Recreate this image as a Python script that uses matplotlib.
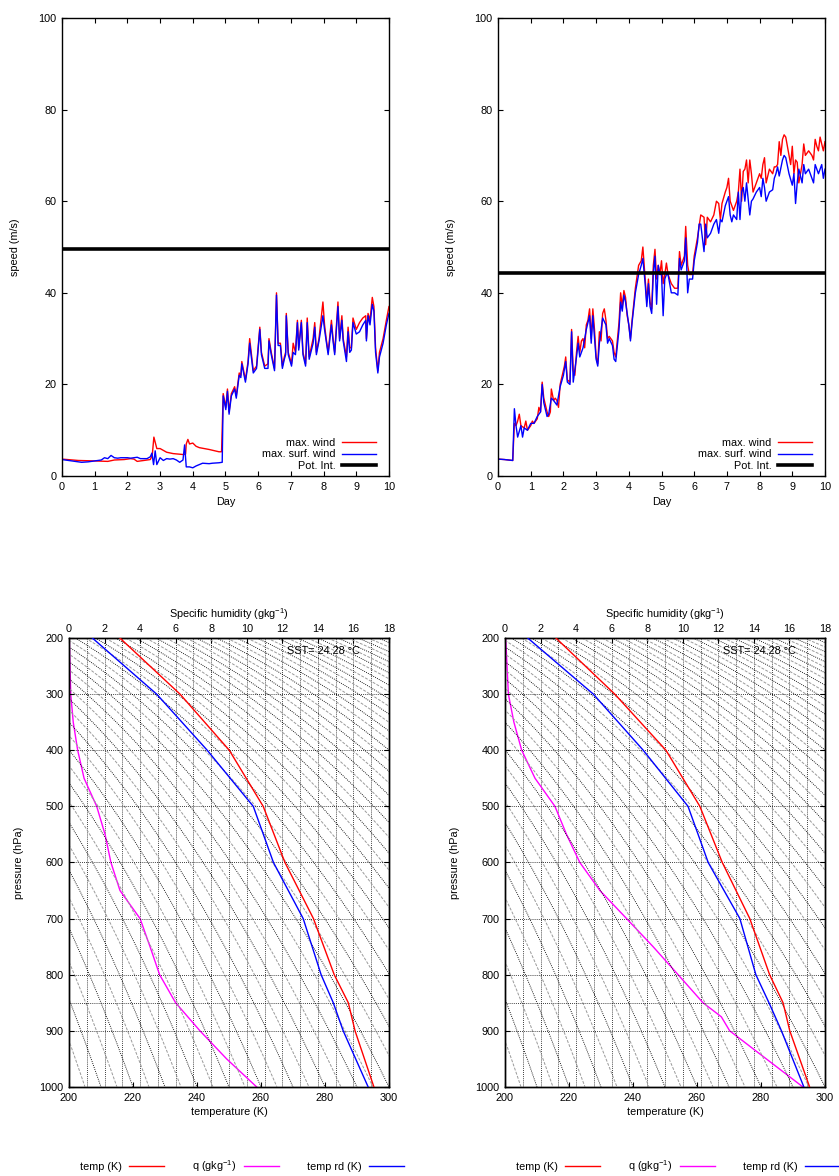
import matplotlib
matplotlib.use("Agg")
import matplotlib.pyplot as plt
import numpy as np

plt.rcParams['font.family'] = ['Liberation Sans', 'DejaVu Sans']
plt.rcParams['font.size'] = 7.8
plt.rcParams['mathtext.default'] = 'regular'
plt.rcParams['axes.linewidth'] = 1.0

# ---- wind time series, run 1 (left) ----
left_red_day = [0.0, 0.5, 1.0, 1.4, 1.6, 1.9, 2.1, 2.2, 2.3, 2.5, 2.7, 2.76, 2.81, 2.9, 3.0, 3.1, 3.2, 3.4, 3.7, 3.78,
                3.8, 3.85, 3.9, 4.0, 4.1, 4.2, 4.5, 4.8, 4.88, 4.93, 5.01, 5.06, 5.11, 5.18, 5.28, 5.33, 5.42, 5.47, 5.5,
                5.61, 5.69, 5.74, 5.85, 5.95, 6.05, 6.1, 6.2, 6.3, 6.33, 6.4, 6.5, 6.56, 6.61, 6.68, 6.74, 6.8, 6.84,
                6.86, 6.92, 7.02, 7.07, 7.14, 7.2, 7.24, 7.32, 7.37, 7.45, 7.5, 7.56, 7.68, 7.73, 7.78, 7.86, 7.98, 8.03,
                8.08, 8.14, 8.24, 8.29, 8.34, 8.44, 8.49, 8.56, 8.6, 8.7, 8.75, 8.8, 8.85, 8.9, 9.0, 9.1, 9.2, 9.29, 9.31,
                9.36, 9.42, 9.49, 9.54, 9.59, 9.66, 9.71, 9.82, 9.92, 10.0]
left_red_speed = [3.7, 3.4, 3.3, 3.2, 3.5, 3.6, 3.8, 3.7, 3.2, 3.4, 3.6, 4.5, 8.5, 6.0, 6.0, 5.6, 5.2, 4.9, 4.7, 4.8,
                  7.0, 8.0, 7.0, 7.2, 6.5, 6.2, 5.8, 5.3, 5.3, 18.0, 15.0, 19.0, 14.0, 18.0, 19.5, 17.5, 22.5, 22.0, 25.0,
                  21.0, 25.0, 30.0, 23.0, 24.0, 32.5, 27.0, 24.0, 24.5, 30.0, 27.0, 23.5, 40.0, 29.0, 29.0, 24.0, 26.0, 27.0,
                  35.5, 27.0, 24.5, 29.0, 27.0, 34.0, 28.0, 34.0, 27.0, 24.5, 34.5, 26.0, 30.0, 33.5, 27.0, 30.0, 38.0, 33.0,
                  30.0, 27.0, 34.0, 30.0, 27.0, 38.0, 30.0, 35.0, 30.0, 26.0, 32.5, 28.0, 28.0, 34.5, 32.0, 33.5, 34.5, 35.0, 30.0,
                  35.5, 34.0, 39.0, 37.0, 28.0, 23.0, 27.0, 30.0, 34.0, 37.0]
left_blue_day = [0.0, 0.3, 0.6, 0.8, 1.0, 1.2, 1.3, 1.4, 1.5, 1.6, 1.7, 1.8, 2.0, 2.1, 2.3, 2.4, 2.6, 2.7, 2.75, 2.8,
                 2.85, 2.9, 3.0, 3.1, 3.2, 3.3, 3.4, 3.5, 3.6, 3.7, 3.75, 3.8, 3.9, 4.0, 4.1, 4.2, 4.3, 4.5, 4.6, 4.8, 4.9,
                 4.93, 5.01, 5.06, 5.11, 5.18, 5.28, 5.33, 5.42, 5.47, 5.5, 5.61, 5.69, 5.74, 5.85, 5.95, 6.05, 6.1, 6.2,
                 6.3, 6.33, 6.4, 6.5, 6.56, 6.61, 6.68, 6.74, 6.8, 6.84, 6.86, 6.92, 7.02, 7.07, 7.14, 7.2, 7.24, 7.32,
                 7.37, 7.45, 7.5, 7.56, 7.68, 7.73, 7.78, 7.86, 7.98, 8.03, 8.08, 8.14, 8.24, 8.29, 8.34, 8.44, 8.49, 8.56,
                 8.6, 8.7, 8.75, 8.8, 8.85, 8.9, 9.0, 9.1, 9.2, 9.29, 9.31, 9.36, 9.42, 9.49, 9.54, 9.59, 9.66, 9.71, 9.82,
                 9.92, 10.0]
left_blue_speed = [3.6, 3.3, 3.0, 3.1, 3.3, 3.5, 4.0, 3.8, 4.5, 4.0, 3.9, 4.0, 4.0, 3.9, 4.1, 3.8, 3.8, 4.2, 5.0, 2.5,
                   5.5, 2.5, 4.0, 3.4, 3.8, 3.7, 3.8, 3.5, 3.0, 3.5, 6.8, 2.0, 2.0, 1.8, 2.2, 2.5, 2.8, 2.7, 2.8, 2.9, 3.0,
                   17.5, 14.5, 18.5, 13.5, 17.5, 19.0, 17.0, 22.0, 21.5, 24.5, 20.5, 24.5, 29.0, 22.5, 23.5, 32.0, 26.5, 23.5,
                   23.5, 29.5, 26.5, 23.0, 39.5, 28.5, 28.5, 23.5, 25.5, 26.5, 35.0, 26.5, 24.0, 27.0, 26.5, 33.5, 27.5, 33.5,
                   26.5, 24.0, 33.5, 25.5, 29.0, 32.5, 26.5, 29.5, 35.0, 32.0, 29.5, 26.5, 33.0, 29.5, 26.5, 37.0, 29.5, 34.0,
                   29.5, 25.0, 31.5, 27.0, 27.5, 33.5, 31.0, 31.5, 33.0, 34.0, 29.5, 35.0, 33.0, 37.5, 36.0, 27.0, 22.5, 26.0, 29.0,
                   33.0, 35.5]
left_pot_int = 49.5

# ---- wind time series, run 2 (right) ----
right_red_day = [0.0, 0.2, 0.45, 0.5, 0.55, 0.6, 0.65, 0.7, 0.8, 0.85, 0.9, 1.0, 1.05, 1.1, 1.2, 1.25, 1.3, 1.35, 1.4,
                 1.5, 1.55, 1.6, 1.63, 1.7, 1.75, 1.8, 1.85, 1.9, 2.0, 2.03, 2.07, 2.12, 2.2, 2.25, 2.3, 2.35, 2.4, 2.45,
                 2.5, 2.55, 2.6, 2.65, 2.7, 2.75, 2.8, 2.85, 2.9, 2.95, 3.0, 3.05, 3.1, 3.15, 3.2, 3.25, 3.3, 3.35, 3.4,
                 3.5, 3.55, 3.6, 3.7, 3.75, 3.8, 3.85, 3.9, 3.95, 4.0, 4.05, 4.1, 4.2, 4.3, 4.38, 4.43, 4.5, 4.55, 4.6,
                 4.65, 4.7, 4.75, 4.8, 4.85, 4.9, 4.95, 5.0, 5.05, 5.1, 5.15, 5.2, 5.3, 5.4, 5.5, 5.55, 5.6, 5.7, 5.74,
                 5.8, 5.85, 5.95, 6.0, 6.1, 6.2, 6.3, 6.35, 6.4, 6.5, 6.6, 6.68, 6.75, 6.8, 6.85, 6.95, 7.0, 7.05, 7.1,
                 7.2, 7.3, 7.35, 7.4, 7.45, 7.5, 7.55, 7.6, 7.65, 7.7, 7.75, 7.8, 7.9, 8.0, 8.05, 8.1, 8.15, 8.2, 8.3,
                 8.4, 8.45, 8.5, 8.55, 8.6, 8.65, 8.7, 8.75, 8.8, 8.85, 8.95, 9.0, 9.05, 9.1, 9.15, 9.2, 9.3, 9.35, 9.4,
                 9.5, 9.6, 9.65, 9.7, 9.75, 9.8, 9.85, 9.9, 9.95, 10.0]
right_red_speed = [3.7, 3.6, 3.4, 11.5, 11.0, 12.0, 13.5, 11.0, 10.5, 12.0, 10.0, 11.0, 12.0, 11.5, 12.5, 15.0, 14.0, 20.5, 17.0,
                   14.0, 13.0, 14.0, 19.0, 16.5, 17.0, 16.5, 15.0, 20.0, 23.0, 24.0, 26.0, 21.0, 20.5, 32.0, 23.0, 22.0, 27.0, 30.5,
                   27.0, 29.5, 30.0, 28.0, 33.0, 34.0, 36.5, 30.0, 36.5, 32.0, 26.0, 24.5, 31.5, 29.5, 35.5, 36.5, 34.0, 30.0, 30.5,
                   29.5, 27.0, 26.0, 33.5, 40.0, 37.0, 40.5, 39.0, 35.0, 33.0, 30.0, 34.0, 41.0, 46.0, 47.0, 50.0, 43.0, 38.0, 43.0,
                   38.0, 36.5, 46.0, 49.5, 43.0, 46.0, 44.0, 47.0, 42.0, 44.0, 46.5, 44.0, 42.0, 41.0, 41.0, 49.0, 46.0, 48.0, 54.5,
                   46.0, 44.0, 44.0, 48.0, 52.0, 57.0, 56.5, 50.5, 56.5, 55.5, 57.0, 60.0, 59.5, 56.0, 59.5, 62.0, 63.0, 65.0, 60.0,
                   58.0, 60.0, 62.0, 67.0, 60.0, 66.5, 67.0, 69.0, 64.0, 69.0, 66.0, 62.0, 64.0, 66.0, 65.0, 68.0, 69.5, 64.0, 67.0,
                   66.0, 67.5, 67.5, 68.0, 73.0, 70.0, 73.5, 74.5, 74.0, 72.0, 68.0, 72.0, 66.0, 69.0, 68.5, 64.0, 68.0, 72.5, 70.0,
                   71.0, 70.0, 69.0, 73.5, 72.0, 71.0, 74.0, 72.5, 71.0, 73.0]
right_blue_day = [0.0, 0.2, 0.45, 0.5, 0.55, 0.6, 0.7, 0.75, 0.8, 0.9, 1.0, 1.1, 1.2, 1.3, 1.35, 1.4, 1.5, 1.55, 1.63,
                  1.7, 1.8, 1.9, 2.0, 2.07, 2.12, 2.2, 2.25, 2.3, 2.4, 2.45, 2.5, 2.6, 2.7, 2.8, 2.85, 2.9, 3.0, 3.05, 3.1,
                  3.2, 3.3, 3.35, 3.4, 3.5, 3.55, 3.6, 3.7, 3.75, 3.8, 3.85, 3.9, 4.0, 4.05, 4.1, 4.2, 4.3, 4.38, 4.43,
                  4.5, 4.55, 4.6, 4.65, 4.7, 4.75, 4.8, 4.85, 4.9, 4.95, 5.0, 5.05, 5.1, 5.15, 5.2, 5.3, 5.4, 5.5, 5.55,
                  5.6, 5.7, 5.74, 5.8, 5.85, 5.95, 6.0, 6.1, 6.15, 6.2, 6.3, 6.35, 6.4, 6.5, 6.6, 6.68, 6.75, 6.8, 6.85,
                  6.95, 7.0, 7.05, 7.1, 7.15, 7.2, 7.3, 7.35, 7.4, 7.45, 7.5, 7.55, 7.6, 7.7, 7.75, 7.8, 7.9, 8.0, 8.05,
                  8.1, 8.15, 8.2, 8.3, 8.4, 8.45, 8.5, 8.55, 8.6, 8.7, 8.75, 8.8, 8.9, 9.0, 9.05, 9.1, 9.15, 9.2, 9.3,
                  9.35, 9.4, 9.5, 9.6, 9.65, 9.7, 9.8, 9.9, 9.95, 10.0]
right_blue_speed = [3.7, 3.6, 3.4, 14.7, 11.0, 8.5, 11.0, 8.5, 10.5, 10.0, 11.5, 11.5, 13.0, 14.0, 20.0, 16.0, 13.0, 13.5, 17.0,
                    16.5, 15.5, 19.5, 22.0, 25.0, 20.5, 20.0, 31.5, 20.5, 26.0, 29.0, 26.0, 28.0, 32.0, 35.0, 29.0, 35.0, 25.5, 24.0, 29.0,
                    34.5, 33.0, 29.0, 30.0, 28.5, 25.5, 25.0, 32.0, 38.0, 36.0, 39.5, 38.0, 33.0, 29.5, 33.5, 40.0, 44.0, 46.0, 47.5,
                    42.0, 37.0, 42.0, 37.0, 35.5, 44.5, 48.0, 37.5, 46.0, 44.0, 44.0, 35.0, 43.0, 44.0, 44.0, 40.0, 40.0, 39.5, 47.5,
                    45.0, 47.0, 52.0, 40.0, 43.0, 43.0, 47.0, 51.0, 55.0, 55.0, 49.0, 55.0, 52.0, 53.0, 55.0, 56.0, 53.0, 56.0, 55.5,
                    59.0, 60.0, 61.0, 57.0, 55.5, 57.0, 56.0, 62.0, 56.0, 62.0, 63.0, 60.0, 64.0, 57.0, 60.0, 60.5, 62.0, 63.0, 61.0,
                    65.0, 63.0, 60.0, 62.0, 62.5, 65.0, 66.0, 67.5, 65.5, 69.0, 70.0, 69.5, 66.0, 63.5, 66.0, 59.5, 64.0, 67.0, 64.0,
                    68.0, 66.0, 67.0, 65.0, 64.0, 68.0, 66.0, 68.0, 65.0, 67.0]
right_pot_int = 44.4

# ---- soundings ----
sound_press = [200, 300, 400, 500, 600, 700, 800, 850, 900, 1000]
left_temp = [215.9, 234.7, 250.1, 260.7, 267.5, 276.4, 282.9, 287.3, 289.4, 295.3]
left_temp_rd = [207.3, 227.4, 243.2, 257.6, 263.9, 273.2, 278.8, 282.6, 285.7, 293.5]
right_temp = [215.9, 234.3, 250.3, 260.9, 267.9, 276.5, 282.7, 286.9, 289.0, 295.2]
right_temp_rd = [207.1, 227.6, 243.2, 257.2, 263.5, 273.4, 278.4, 282.5, 286.4, 293.4]

left_q_press = [200, 300, 350, 400, 450, 500, 550, 600, 650, 700, 750, 800, 850, 900, 950, 1000]
left_q = [0.02, 0.1, 0.24, 0.49, 0.85, 1.56, 2.03, 2.36, 2.87, 4.0, 4.56, 5.1, 6.0, 7.37, 8.87, 10.56]
right_q_press = [200, 300, 350, 400, 450, 500, 550, 600, 650, 700, 750, 800, 850, 875, 900, 925, 950, 1000]
right_q = [0.04, 0.19, 0.5, 0.94, 1.69, 2.81, 3.46, 4.21, 5.34, 6.84, 8.33, 9.74, 11.14, 12.17, 12.64, 13.67, 14.7, 16.76]

sst_label = 'SST= 24.28 °C'
theta_levels = np.arange(200, 480, 5)   # dry adiabats drawn in the background
grid_press = [200, 300, 400, 500, 600, 700, 800, 850, 900, 1000]


def wind_panel(ax, red_day, red_speed, blue_day, blue_speed, pot_int):
    ax.plot(red_day, red_speed, color='#ff0000', lw=1.0, label='max. wind')
    ax.plot(blue_day, blue_speed, color='#0000ff', lw=1.0, label='max. surf. wind')
    ax.axhline(pot_int, color='black', lw=2.6, label='Pot. Int.')
    ax.set_xlim(0, 10)
    ax.set_ylim(0, 100)
    ax.set_xticks(np.arange(0, 11, 1))
    ax.set_yticks(np.arange(0, 101, 20))
    ax.tick_params(direction='in', top=True, right=True, length=3.5, width=0.8, pad=4)
    ax.set_xlabel('Day', labelpad=4)
    ax.set_ylabel('speed (m/s)', labelpad=13)
    ax.legend(loc='lower right', bbox_to_anchor=(0.976, 0.0), markerfirst=False, frameon=False,
              handlelength=3.1, handletextpad=0.6, labelspacing=0.12, borderaxespad=0.1)


def sounding_panel(ax, temp, temp_rd, q_press, q):
    ax2 = ax.twiny()
    ax.set_zorder(ax2.get_zorder() + 1)
    ax.patch.set_visible(False)

    p = np.linspace(200, 1000, 200)
    for theta in theta_levels:
        t = theta * (p / 1000.0) ** 0.286
        if theta % 10 == 0:
            ax.plot(t, p, color='black', lw=0.65, ls=(0, (1, 1.3)), zorder=1)
        else:
            ax.plot(t, p, color='#9a9a9a', lw=0.7, ls=(0, (3, 1.5)), zorder=1)
    for gp in grid_press:
        ax.axhline(gp, color='black', lw=0.6, ls=(0, (1, 1.5)), zorder=1)

    l1, = ax.plot(temp, sound_press, color='#ff0000', lw=1.0, zorder=3, label='temp (K)')
    l3, = ax.plot(temp_rd, sound_press, color='#0000ff', lw=1.0, zorder=3, label='temp rd (K)')
    l2, = ax2.plot(q, q_press, color='#ff00ff', lw=1.0, label='q (gkg$^{-1}$)')

    ax.set_xlim(200, 300)
    ax.set_ylim(1000, 200)
    ax2.set_xlim(0, 18)
    ax.set_xticks(np.arange(200, 301, 20))
    ax.set_yticks(np.arange(200, 1001, 100))
    ax2.set_xticks(np.arange(0, 19, 2))
    ax2.set_xticks(np.arange(0, 19, 1), minor=True)
    ax2.xaxis.grid(True, which='both', color='black', lw=0.6, ls=(0, (1, 1.5)))
    ax2.tick_params(axis='x', which='minor', length=0)
    ax.tick_params(direction='in', right=True, length=3.5, width=0.8, pad=4)
    ax2.tick_params(direction='in', length=3.5, width=0.8, pad=3)
    ax.set_xlabel('temperature (K)', labelpad=3)
    ax.set_ylabel('pressure (hPa)', labelpad=11)
    ax2.set_xlabel('Specific humidity (gkg$^{-1}$)', labelpad=4)
    ax.text(0.68, 0.972, sst_label, transform=ax.transAxes, va='center', ha='left')
    ax.legend([l1, l2, l3], [l1.get_label(), l2.get_label(), l3.get_label()],
              loc='center left', bbox_to_anchor=(0.034, -0.176), ncol=3, markerfirst=False,
              frameon=False, handlelength=3.2, handletextpad=0.7, columnspacing=2.6,
              borderpad=0, borderaxespad=0)


fig = plt.figure(figsize=(8.39, 11.76), dpi=100)
ax_tl = fig.add_axes([0.0739, 0.5952, 0.3897, 0.3895])
ax_tr = fig.add_axes([0.5936, 0.5952, 0.3897, 0.3895])
ax_bl = fig.add_axes([0.0822, 0.0757, 0.3814, 0.3818])
ax_br = fig.add_axes([0.6019, 0.0757, 0.3814, 0.3818])

wind_panel(ax_tl, left_red_day, left_red_speed, left_blue_day, left_blue_speed, left_pot_int)
wind_panel(ax_tr, right_red_day, right_red_speed, right_blue_day, right_blue_speed, right_pot_int)
sounding_panel(ax_bl, left_temp, left_temp_rd, left_q_press, left_q)
sounding_panel(ax_br, right_temp, right_temp_rd, right_q_press, right_q)

fig.savefig('out.png', dpi=100)
